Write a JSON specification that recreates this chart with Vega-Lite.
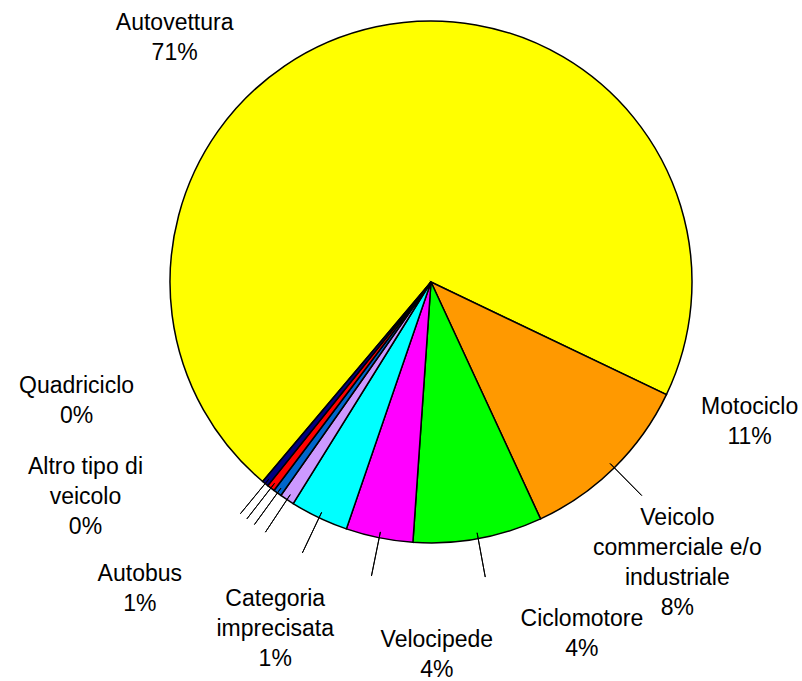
{
  "$schema": "https://vega.github.io/schema/vega-lite/v6.json",
  "autosize": "none",
  "width": 742,
  "height": 564,
  "padding": {"left": 60, "top": 0, "right": 0, "bottom": 117},
  "background": "white",
  "config": {
    "view": {"stroke": null},
    "text": {"font": "Liberation Sans", "fontSize": 23, "lineHeight": 30, "lineBreak": "\n", "color": "black", "align": "center", "baseline": "middle"}
  },
  "data": {
    "values": [
      {"idx": 1, "category": "Autovettura", "value": 70.95, "label": "Autovettura\n71%"},
      {"idx": 2, "category": "Motociclo", "value": 11.0, "label": "Motociclo\n11%"},
      {"idx": 3, "category": "Veicolo commerciale e/o industriale", "value": 8.0, "label": "Veicolo\ncommerciale e/o\nindustriale\n8%"},
      {"idx": 4, "category": "Ciclomotore", "value": 4.15, "label": "Ciclomotore\n4%"},
      {"idx": 5, "category": "Velocipede", "value": 3.6, "label": "Velocipede\n4%"},
      {"idx": 6, "category": "Categoria imprecisata", "value": 0.9, "label": "Categoria\nimprecisata\n1%"},
      {"idx": 7, "category": "Autobus", "value": 0.52, "label": "Autobus\n1%"},
      {"idx": 8, "category": "Altro tipo di veicolo", "value": 0.48, "label": "Altro tipo di\nveicolo\n0%"},
      {"idx": 9, "category": "Quadriciclo", "value": 0.4, "label": "Quadriciclo\n0%"}
    ]
  },
  "transform": [
    {"stack": "value", "groupby": [], "sort": [{"field": "idx", "order": "ascending"}], "as": ["v0", "v1"]}
  ],
  "encoding": {
    "theta": {"field": "v0", "type": "quantitative", "stack": null, "scale": {"domain": [0, 100], "range": [3.8425, 10.1257]}}
  },
  "layer": [
    {
      "mark": {"type": "arc", "outerRadius": 261, "stroke": "black", "strokeWidth": 1.5},
      "encoding": {
        "theta2": {"field": "v1"},
        "color": {
          "field": "category", "type": "nominal", "legend": null,
          "scale": {
            "domain": ["Autovettura", "Motociclo", "Veicolo commerciale e/o industriale", "Ciclomotore", "Velocipede", "Categoria imprecisata", "Autobus", "Altro tipo di veicolo", "Quadriciclo"],
            "range": ["#FFFF00", "#FF9900", "#00FF00", "#FF00FF", "#00FFFF", "#CC99FF", "#0066CC", "#FF0000", "#000080"]
          }
        }
      }
    },
    {
      "transform": [{"filter": "datum.category != 'Autovettura'"}],
      "mark": {"type": "arc", "innerRadius": 255, "outerRadius": 300, "padAngle": 0.6, "fill": "transparent", "stroke": "black", "strokeWidth": 1},
      "encoding": {"theta2": {"field": "v1"}}
    },
    {"transform": [{"filter": "datum.idx == 1"}], "mark": {"type": "text", "radius": 354, "thetaOffset": 1.6308, "dy": -15}, "encoding": {"text": {"field": "label"}}},
    {"transform": [{"filter": "datum.idx == 2"}], "mark": {"type": "text", "radius": 348, "thetaOffset": -0.0328, "dy": -15}, "encoding": {"text": {"field": "label"}}},
    {"transform": [{"filter": "datum.idx == 3"}], "mark": {"type": "text", "radius": 374, "thetaOffset": -0.2859, "dy": -45}, "encoding": {"text": {"field": "label"}}},
    {"transform": [{"filter": "datum.idx == 4"}], "mark": {"type": "text", "radius": 383, "thetaOffset": -0.4744, "dy": -15}, "encoding": {"text": {"field": "label"}}},
    {"transform": [{"filter": "datum.idx == 5"}], "mark": {"type": "text", "radius": 373, "thetaOffset": -0.3459, "dy": -15}, "encoding": {"text": {"field": "label"}}},
    {"transform": [{"filter": "datum.idx == 6"}], "mark": {"type": "text", "radius": 380, "thetaOffset": -0.134, "dy": -30}, "encoding": {"text": {"field": "label"}}},
    {"transform": [{"filter": "datum.idx == 7"}], "mark": {"type": "text", "radius": 423, "thetaOffset": 0.1463, "dy": -15}, "encoding": {"text": {"field": "label"}}},
    {"transform": [{"filter": "datum.idx == 8"}], "mark": {"type": "text", "radius": 407, "thetaOffset": 0.3684, "dy": -30}, "encoding": {"text": {"field": "label"}}},
    {"transform": [{"filter": "datum.idx == 9"}], "mark": {"type": "text", "radius": 374, "thetaOffset": 0.5704, "dy": -15}, "encoding": {"text": {"field": "label"}}}
  ]
}
